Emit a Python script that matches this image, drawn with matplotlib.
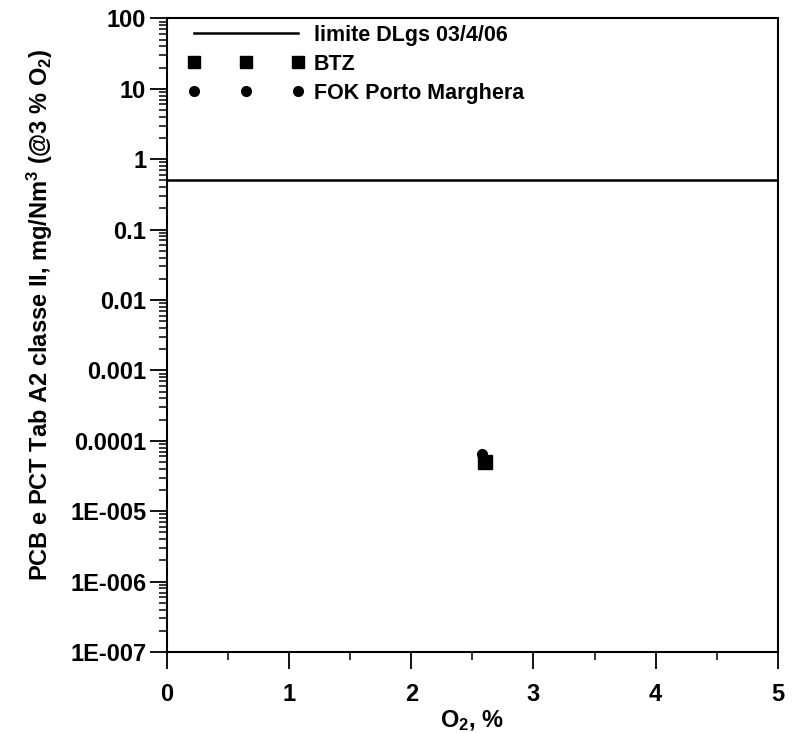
import matplotlib
matplotlib.use("Agg")
import matplotlib.pyplot as plt
from matplotlib.ticker import LogLocator, FixedLocator, MultipleLocator, NullFormatter

plt.rcParams['font.family'] = ['Liberation Sans', 'DejaVu Sans']
plt.rcParams['font.weight'] = 'bold'
plt.rcParams['mathtext.fontset'] = 'custom'
plt.rcParams['mathtext.rm'] = 'Liberation Sans:bold'
plt.rcParams['mathtext.it'] = 'Liberation Sans:bold'
plt.rcParams['mathtext.default'] = 'rm'

# data
limit_value = 0.5
btz_x = [2.6]
btz_y = [5.0e-5]
fok_x = [2.58]
fok_y = [6.5e-5]
y_tick_values = [1e2, 1e1, 1e0, 1e-1, 1e-2, 1e-3, 1e-4, 1e-5, 1e-6, 1e-7]
y_tick_labels = ["100", "10", "1", "0.1", "0.01", "0.001", "0.0001", "1E-005", "1E-006", "1E-007"]
x_ticks = [0, 1, 2, 3, 4, 5]

FS = 17
LFS = 15.5

fig = plt.figure(figsize=(8.11, 7.33), dpi=100)
ax = fig.add_axes([0.206, 0.1105, 0.753, 0.8645])

ax.set_yscale('log')
ax.set_xlim(0, 5)
ax.set_ylim(1e-7, 1e2)

ax.axhline(limit_value, color='black', lw=1.8, label='limite DLgs 03/4/06')
ax.plot(btz_x, btz_y, linestyle='none', marker='s', ms=10.5, color='black', label='BTZ')
ax.plot(fok_x, fok_y, linestyle='none', marker='o', ms=7, color='black', label='FOK Porto Marghera')

ax.yaxis.set_major_locator(FixedLocator(y_tick_values))
ax.set_yticklabels(y_tick_labels)
ax.yaxis.set_minor_locator(LogLocator(base=10, subs=range(2, 10), numticks=20))
ax.yaxis.set_minor_formatter(NullFormatter())
ax.set_xticks(x_ticks)
ax.xaxis.set_minor_locator(MultipleLocator(0.5))

ax.tick_params(which='major', direction='out', length=12, width=1.3, labelsize=FS)
ax.tick_params(axis='y', which='major', pad=3)
ax.tick_params(axis='x', which='major', pad=10)
ax.tick_params(which='minor', direction='out', length=6, width=1.1)
for s in ax.spines.values():
    s.set_linewidth(1.5)

ax.set_xlabel('O$_2$, %', fontsize=FS, fontweight='bold')
ax.set_ylabel('PCB e PCT Tab A2 classe II, mg/Nm$^3$ (@3 % O$_2$)', fontsize=FS,
              fontweight='bold')
ax.xaxis.set_label_coords(0.5, -0.088)
ax.yaxis.set_label_coords(-0.183, 0.532)

leg = ax.legend(loc='upper left', frameon=False, numpoints=3, fontsize=LFS,
                handlelength=5.4, labelspacing=0.37, borderaxespad=0.0,
                borderpad=0.0, handletextpad=0.44, bbox_to_anchor=(0.034, 0.99))
for h in leg.legend_handles[1:2]:
    h.set_markersize(8.5)

fig.savefig('out.png', dpi=100)
